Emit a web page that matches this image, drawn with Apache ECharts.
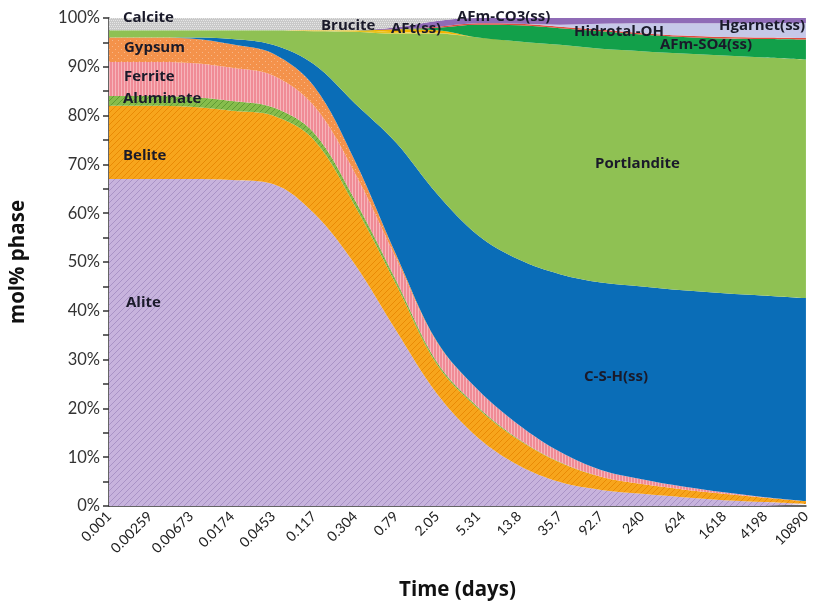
<!DOCTYPE html>
<html>
<head>
<meta charset="utf-8">
<script src="https://cdn.jsdelivr.net/npm/echarts@6/dist/echarts.min.js"></script>
<style>
  html, body { margin: 0; padding: 0; background: #fff; }
  #chart { width: 813px; height: 606px; }
</style>
</head>
<body>
<div id="chart"></div>
<script>
// Time axis ticks (days)
const timeLabels = ['0.001','0.00259','0.00673','0.0174','0.0453','0.117','0.304','0.79','2.05',
                    '5.31','13.8','35.7','92.7','240','624','1618','4198','10890'];

// Phase assemblage, mol% at each time step (stacked bottom to top)
const alite       = [67,67,67,66.8,66,60,49.5,36,23,14,8.3,4.9,3.3,2.5,1.8,1.2,0.8,0.4];
const belite      = [15,15,14.8,14.2,14,15,12,9.5,6,6,5.2,4,2.7,2,1.6,1.3,0.9,0.6];
const aluminate   = [2,2,2,2,1.7,1.5,1.2,0.8,0.5,0.3,0.2,0.1,0,0,0,0,0,0];
const ferrite     = [7,7,7,6.8,6.5,5.5,5.5,4.5,4.0,3.5,2.9,2.1,1.4,1,0.6,0.3,0.1,0];
const gypsum      = [5,5,5,4.8,4.5,4,2.5,0.8,0.2,0,0,0,0,0,0,0,0,0];
const csh         = [0,0,0.2,1.1,1.8,4.5,11.8,22.9,30.3,31.7,33.9,36.4,38.4,39.5,40.2,40.8,41.3,41.6];
const portlandite = [1.5,1.5,1.5,1.8,3.0,6.8,14.7,22.3,32.8,40.5,44.7,47.0,47.9,48.2,48.5,48.7,48.8,48.9];
const brucite     = [0,0,0,0,0,0.2,0.3,0.3,0.2,0,0,0,0,0,0,0,0,0];
const aft         = [0,0,0,0,0,0,0,0.6,0.5,0,0,0,0,0,0,0,0,0];
const afmSO4      = [0,0,0,0,0,0,0,0,0.5,2.6,3.3,3.4,3.6,3.4,3.4,3.5,3.8,4.1];
const hidrotal    = [0,0,0,0,0,0,0,0,0.2,0.3,0.3,0.3,0.3,0.3,0.3,0.3,0.3,0.3];
const hgarnet     = [0,0,0,0,0,0,0,0,0,0,0,0.4,1.2,2.0,2.5,2.8,3.0,3.1];
const afmCO3      = [0,0,0,0,0,0,0,0.4,1.2,1.1,1.2,1.4,1.2,1.1,1.1,1.1,1.0,1.0];
const calcite     = [2.5,2.5,2.5,2.5,2.5,2.5,2.5,1.9,0.6,0,0,0,0,0,0,0,0,0];

// Small tiled textures for the clinker phases
function pattern(base, ink, kind) {
  const c = document.createElement('canvas');
  c.width = 6; c.height = 6;
  const g = c.getContext('2d');
  g.fillStyle = base; g.fillRect(0, 0, 6, 6);
  g.strokeStyle = ink; g.fillStyle = ink; g.lineWidth = 1;
  if (kind === 'diag') {
    g.beginPath();
    g.moveTo(0, 6); g.lineTo(6, 0);
    g.moveTo(-3, 3); g.lineTo(3, -3);
    g.moveTo(3, 9); g.lineTo(9, 3);
    g.stroke();
  } else if (kind === 'vert') {
    g.fillRect(1, 0, 1, 6); g.fillRect(4, 0, 1, 6);
  } else if (kind === 'dots') {
    g.fillRect(1, 1, 1, 1); g.fillRect(4, 4, 1, 1);
  } else if (kind === 'grid') {
    g.fillRect(0, 0, 1, 1); g.fillRect(2, 0, 1, 1); g.fillRect(4, 0, 1, 1);
    g.fillRect(1, 2, 1, 1); g.fillRect(3, 2, 1, 1); g.fillRect(5, 2, 1, 1);
    g.fillRect(0, 4, 1, 1); g.fillRect(2, 4, 1, 1); g.fillRect(4, 4, 1, 1);
  }
  return { image: c, repeat: 'repeat' };
}

const phases = [
  ['Alite', alite, pattern('#c7b3dd', '#a993c6', 'diag')],
  ['Belite', belite, pattern('#f7a51c', '#e98a05', 'diag')],
  ['Aluminate', aluminate, pattern('#86bd4c', '#5f9a33', 'diag')],
  ['Ferrite', ferrite, pattern('#f08b96', '#f6b5bb', 'vert')],
  ['Gypsum', gypsum, pattern('#f4924b', '#f8b787', 'dots')],
  ['C-S-H(ss)', csh, '#0a6db7'],
  ['Portlandite', portlandite, '#8fc153'],
  ['Brucite', brucite, '#e8c21e'],
  ['AFt(ss)', aft, '#f3b400'],
  ['AFm-SO4(ss)', afmSO4, '#12a04a'],
  ['Hidrotal-OH', hidrotal, '#e24a3c'],
  ['Hgarnet(ss)', hgarnet, '#c6c8e8'],
  ['AFm-CO3(ss)', afmCO3, '#8f6bb6'],
  ['Calcite', calcite, pattern('#c9c9c9', '#e6e6e6', 'grid')]
];

const series = phases.map(([name, data, color]) => ({
  name, type: 'line', stack: 'phase', data,
  smooth: 0.35, symbol: 'none',
  lineStyle: { width: 0 },
  areaStyle: { color, opacity: 1 },
  itemStyle: { color: typeof color === 'string' ? color : '#999' },
  emphasis: { disabled: true },
  animation: false
}));

// In-plot phase names
const labelFont = 'bold 15px "Open Sans"';
const tags = [
  ['Calcite', 123, 20], ['Gypsum', 124, 50], ['Ferrite', 124, 79], ['Aluminate', 123, 101],
  ['Belite', 123, 158], ['Alite', 126, 305], ['Brucite', 321, 28], ['AFt(ss)', 391, 31],
  ['AFm-CO3(ss)', 457, 19], ['Hidrotal-OH', 574, 34], ['Hgarnet(ss)', 719, 28],
  ['AFm-SO4(ss)', 660, 47], ['Portlandite', 595, 166], ['C-S-H(ss)', 584, 379]
];

const chart = echarts.init(document.getElementById('chart'), null, { renderer: 'canvas' });
chart.setOption({
  animation: false,
  backgroundColor: '#ffffff',
  grid: { left: 109, right: 5, top: 18, bottom: 94 },
  xAxis: {
    type: 'category', data: timeLabels, boundaryGap: false,
    name: 'Time (days)', nameLocation: 'middle', nameGap: 74,
    nameTextStyle: { fontFamily: 'Open Sans', fontWeight: 'bold', fontSize: 20.5, color: '#111' },
    axisLine: { lineStyle: { color: '#333', width: 1.5 } },
    axisTick: { show: false },
    axisLabel: { rotate: 45, interval: 0, fontFamily: 'Lato', fontSize: 14, color: '#222', margin: 8 },
    splitLine: { show: false }
  },
  yAxis: {
    type: 'value', min: 0, max: 100, interval: 5,
    name: 'mol% phase', nameLocation: 'middle', nameGap: 80,
    nameTextStyle: { fontFamily: 'Open Sans', fontWeight: 'bold', fontSize: 20.5, color: '#111' },
    axisLine: { show: true, lineStyle: { color: '#333', width: 1.5 } },
    axisTick: { show: true, length: 6, lineStyle: { color: '#333', width: 1.5 } },
    axisLabel: {
      fontFamily: 'Lato', fontSize: 16.5, color: '#333', margin: 9,
      formatter: v => (v % 10 === 0 ? v + '%' : '')
    },
    splitLine: { show: false }
  },
  series,
  graphic: tags.map(([text, x, y]) => ({
    type: 'text', left: x, top: y - 10, z: 100,
    style: { text, font: labelFont, fill: '#1a1a2a' }
  }))
});
</script>
</body>
</html>
